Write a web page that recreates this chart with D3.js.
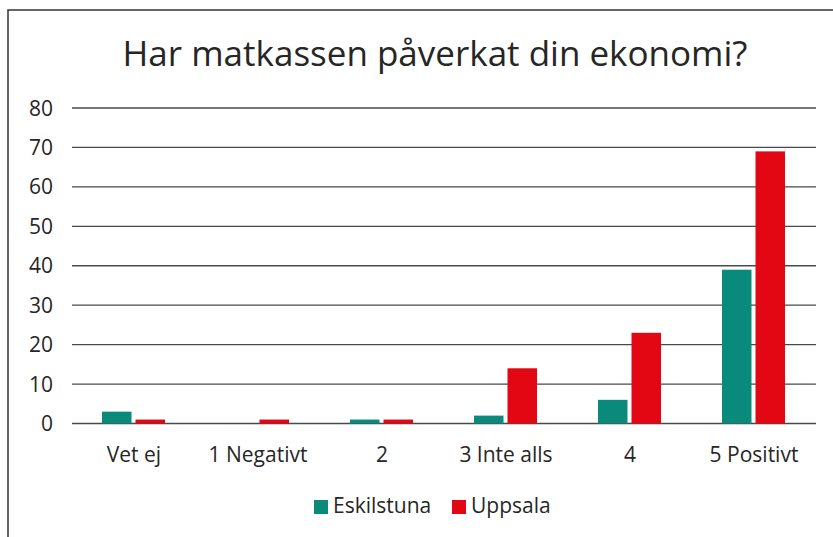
<!DOCTYPE html>
<html>
<head>
<meta charset="utf-8">
<script src="https://cdn.jsdelivr.net/npm/d3@7"></script>
<style>
  body { margin: 0; background: #fff; }
  text { font-family: "Open Sans", "Liberation Sans", Arial, sans-serif; fill: #262626; }
</style>
</head>
<body>
<svg id="chart" width="833" height="537"></svg>
<script>
// chart data
const categories = ["Vet ej", "1 Negativt", "2", "3 Inte alls", "4", "5 Positivt"];
const seriesNames = ["Eskilstuna", "Uppsala"];
const eskilstuna = [3, 0, 1, 2, 6, 39];
const uppsala = [1, 1, 1, 14, 23, 69];
const yTicks = [0, 10, 20, 30, 40, 50, 60, 70, 80];
const colors = ["#0a8a7a", "#e30613"];

const svg = d3.select("#chart");

// outer frame (only top and left edges visible)
svg.append("rect")
    .attr("x", 8).attr("y", 10)
    .attr("width", 900).attr("height", 600)
    .attr("fill", "none")
    .attr("stroke", "#333")
    .attr("stroke-width", 1.5);

const plot = { left: 72, right: 816, top: 108, bottom: 423.5 };

const x = d3.scaleBand()
    .domain(categories)
    .range([plot.left, plot.right]);

const x1 = d3.scaleBand()
    .domain(seriesNames)
    .range([0, 63])
    .paddingInner(0.12);

const y = d3.scaleLinear()
    .domain([0, 80])
    .range([plot.bottom, plot.top]);

// title
svg.append("text")
    .attr("x", 435).attr("y", 66)
    .attr("text-anchor", "middle")
    .style("font-size", "35px")
    .text("Har matkassen påverkat din ekonomi?");

// gridlines
svg.selectAll(".grid")
    .data(yTicks)
    .enter().append("line")
    .attr("class", "grid")
    .attr("x1", plot.left).attr("x2", plot.right)
    .attr("y1", d => y(d)).attr("y2", d => y(d))
    .attr("stroke", "#4a4a4a")
    .attr("stroke-width", 1.3);

// y tick labels
svg.selectAll(".ylab")
    .data(yTicks)
    .enter().append("text")
    .attr("class", "ylab")
    .attr("x", 53)
    .attr("y", d => y(d) + 7.5)
    .attr("text-anchor", "end")
    .style("font-size", "21px")
    .text(d => d);

// bars
const rows = categories.map((c, i) => ({ cat: c, values: [eskilstuna[i], uppsala[i]] }));

const groups = svg.selectAll(".grp")
    .data(rows)
    .enter().append("g")
    .attr("class", "grp")
    .attr("transform", d => `translate(${x(d.cat) + x.bandwidth() / 2 - 32},0)`);

groups.selectAll("rect")
    .data(d => d.values.map((v, j) => ({ name: seriesNames[j], value: v, j: j })))
    .enter().append("rect")
    .attr("x", d => x1(d.name))
    .attr("width", x1.bandwidth())
    .attr("y", d => y(d.value))
    .attr("height", d => y(0) - y(d.value))
    .attr("fill", d => colors[d.j]);

// x labels
svg.selectAll(".xlab")
    .data(categories)
    .enter().append("text")
    .attr("class", "xlab")
    .attr("x", d => x(d) + x.bandwidth() / 2)
    .attr("y", 462)
    .attr("text-anchor", "middle")
    .style("font-size", "21px")
    .text(d => d);

// legend
const legendX = [314, 452];
const legend = svg.selectAll(".leg")
    .data(seriesNames)
    .enter().append("g")
    .attr("class", "leg")
    .attr("transform", (d, i) => `translate(${legendX[i]},500)`);

legend.append("rect")
    .attr("width", 14).attr("height", 14)
    .attr("fill", (d, i) => colors[i]);

legend.append("text")
    .attr("x", 19).attr("y", 13)
    .style("font-size", "21px")
    .text(d => d);
</script>
</body>
</html>
